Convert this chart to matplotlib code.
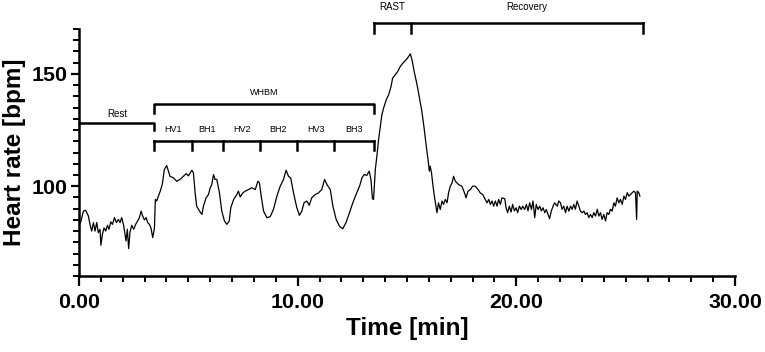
import numpy as np
import matplotlib
matplotlib.use('Agg')
import matplotlib.pyplot as plt
from matplotlib.ticker import MultipleLocator, FormatStrFormatter

plt.rcParams['font.family'] = ['Liberation Sans', 'DejaVu Sans']

# heart rate trace (time in min, bpm)
time_min = [
    0.00, 0.09, 0.20, 0.30, 0.43, 0.50, 0.58, 0.66, 0.73, 0.81, 0.88, 0.96, 1.00, 1.07, 1.14,
    1.22, 1.30, 1.37, 1.45, 1.53, 1.62, 1.71, 1.80, 1.88, 1.95, 2.04, 2.15, 2.21, 2.27, 2.33,
    2.41, 2.50, 2.59, 2.68, 2.76, 2.84, 2.91, 2.99, 3.07, 3.14, 3.22, 3.29, 3.37, 3.45, 3.49,
    3.55, 3.63, 3.74, 3.82, 3.90, 4.01, 4.16, 4.32, 4.47, 4.62, 4.77, 4.90, 5.00, 5.16, 5.23,
    5.31, 5.38, 5.51, 5.62, 5.69, 5.81, 5.92, 6.00, 6.07, 6.15, 6.22, 6.30, 6.42, 6.53, 6.65,
    6.76, 6.87, 6.94, 7.07, 7.22, 7.29, 7.37, 7.49, 7.60, 7.75, 7.90, 8.06, 8.18, 8.25, 8.33,
    8.44, 8.59, 8.74, 8.89, 9.05, 9.20, 9.35, 9.47, 9.58, 9.68, 9.81, 9.96, 10.08, 10.19, 10.29,
    10.41, 10.53, 10.64, 10.80, 10.95, 11.10, 11.23, 11.34, 11.49, 11.61, 11.76, 11.91, 12.06, 12.21, 12.37,
    12.52, 12.67, 12.83, 12.94, 13.04, 13.16, 13.27, 13.35, 13.42, 13.47, 13.55, 13.62, 13.70, 13.78, 13.85,
    13.93, 14.05, 14.16, 14.27, 14.34, 14.46, 14.57, 14.69, 14.81, 14.92, 15.02, 15.15, 15.23, 15.33, 15.46,
    15.57, 15.68, 15.79, 15.88, 15.96, 16.02, 16.06, 16.12, 16.19, 16.25, 16.32, 16.37, 16.44, 16.52, 16.60,
    16.67, 16.75, 16.83, 16.90, 16.98, 17.06, 17.13, 17.21, 17.36, 17.51, 17.63, 17.70, 17.79, 17.90, 18.00,
    18.12, 18.25, 18.35, 18.46, 18.58, 18.66, 18.74, 18.81, 18.89, 18.96, 19.04, 19.12, 19.19, 19.27, 19.34,
    19.47, 19.53, 19.60, 19.68, 19.76, 19.83, 19.91, 19.99, 20.06, 20.14, 20.22, 20.29, 20.38, 20.46, 20.53,
    20.61, 20.69, 20.76, 20.84, 20.91, 20.99, 21.07, 21.14, 21.22, 21.30, 21.37, 21.45, 21.52, 21.60, 21.68,
    21.75, 21.87, 21.94, 22.02, 22.09, 22.17, 22.25, 22.32, 22.40, 22.48, 22.55, 22.63, 22.70, 22.78, 22.86,
    22.93, 23.01, 23.09, 23.16, 23.24, 23.31, 23.39, 23.47, 23.54, 23.62, 23.70, 23.77, 23.85, 23.92, 24.00,
    24.08, 24.15, 24.23, 24.30, 24.38, 24.46, 24.53, 24.61, 24.69, 24.76, 24.84, 24.92, 24.99, 25.07, 25.15,
    25.22, 25.30, 25.37, 25.45, 25.50, 25.53, 25.60, 25.65,
]
heart_rate = [
    82.2, 84.5, 88.9, 89.3, 86.7, 83.0, 80.0, 83.8, 80.0, 83.8, 79.3, 80.8, 73.7, 78.6, 81.4,
    80.0, 82.6, 80.8, 84.1, 83.0, 86.0, 83.8, 85.2, 83.8, 86.0, 82.6, 75.6, 80.8, 72.2, 79.5,
    82.6, 80.8, 83.0, 84.5, 86.0, 88.9, 86.7, 85.0, 86.0, 83.8, 83.0, 81.4, 77.1, 81.4, 94.1,
    93.4, 95.6, 98.5, 101.5, 107.4, 109.2, 104.4, 103.7, 102.2, 103.0, 104.4, 105.6, 104.6, 107.1, 106.0,
    97.1, 91.1, 88.9, 87.4, 91.1, 94.8, 96.3, 99.3, 100.7, 105.2, 103.0, 103.0, 97.1, 88.9, 84.5,
    83.0, 84.5, 90.4, 94.1, 96.3, 97.8, 95.2, 97.0, 97.8, 98.5, 99.3, 98.5, 102.2, 101.5, 95.6,
    88.9, 86.0, 86.4, 89.6, 95.6, 100.0, 103.0, 107.1, 104.4, 103.7, 97.0, 90.4, 87.0, 88.9, 92.6,
    93.4, 91.5, 94.8, 96.3, 97.0, 98.5, 103.0, 100.7, 98.5, 91.1, 85.2, 82.2, 81.0, 83.8, 88.2,
    92.6, 96.3, 100.0, 103.7, 105.2, 104.8, 106.7, 103.0, 94.4, 94.1, 107.4, 113.3, 120.7, 126.6, 131.8,
    134.8, 138.5, 140.7, 144.4, 148.1, 149.6, 151.0, 153.3, 154.8, 155.9, 157.0, 158.9, 156.2, 151.0, 145.1,
    139.2, 133.3, 125.2, 117.8, 111.9, 106.7, 108.9, 105.9, 100.0, 95.6, 91.1, 88.2, 92.6, 89.6, 93.4,
    91.9, 94.1, 92.6, 97.0, 100.0, 101.5, 104.4, 102.2, 100.7, 100.0, 97.0, 94.8, 97.8, 98.5, 100.0,
    100.0, 98.5, 97.0, 96.3, 94.1, 92.6, 94.1, 91.9, 93.4, 91.1, 93.4, 91.1, 94.1, 91.9, 94.8,
    94.4, 90.4, 88.2, 91.1, 88.5, 91.9, 89.0, 90.4, 88.2, 91.1, 89.6, 91.1, 89.6, 91.9, 89.0,
    92.6, 89.6, 93.4, 86.0, 91.9, 89.6, 91.1, 89.0, 90.4, 88.2, 89.6, 87.4, 85.5, 89.0, 91.1,
    92.6, 91.1, 93.4, 92.6, 89.7, 91.1, 88.2, 91.1, 88.9, 91.1, 89.7, 91.9, 89.7, 93.4, 91.1,
    88.9, 88.2, 88.9, 87.4, 88.2, 86.0, 87.4, 86.0, 88.2, 86.7, 89.7, 86.7, 88.2, 85.2, 87.4,
    84.5, 88.2, 87.4, 89.7, 88.9, 92.6, 91.1, 94.8, 92.6, 94.1, 91.9, 95.6, 94.1, 97.1, 95.6,
    96.3, 97.1, 97.8, 97.1, 85.2, 97.8, 97.1, 95.6,
]

# protocol phases (boundaries in min)
rest_end = 3.43
whbm_edges = [3.45, 5.15, 6.60, 8.28, 9.96, 11.67, 13.47]
whbm_labels = ['HV1', 'BH1', 'HV2', 'BH2', 'HV3', 'BH3']
rast_edges = [13.47, 15.18, 25.78]
rast_labels = ['RAST', 'Recovery']

fig = plt.figure(figsize=(7.65, 3.52), dpi=100)
ax = fig.add_axes([0.1033, 0.2159, 0.8575, 0.7017])

ax.plot(time_min, heart_rate, color='black', lw=0.9)

ax.set_xlim(0, 30)
ax.set_ylim(60, 170)
ax.xaxis.set_major_locator(MultipleLocator(10))
ax.xaxis.set_minor_locator(MultipleLocator(1))
ax.yaxis.set_major_locator(MultipleLocator(50))
ax.yaxis.set_minor_locator(MultipleLocator(5))
ax.xaxis.set_major_formatter(FormatStrFormatter('%.2f'))

for s in ['top', 'right']:
    ax.spines[s].set_visible(False)
for s in ['left', 'bottom']:
    ax.spines[s].set_linewidth(1.8)

ax.tick_params(axis='both', which='major', width=1.6, labelsize=15.4)
ax.tick_params(axis='x', which='major', length=7, pad=5)
ax.tick_params(axis='y', which='major', length=6, pad=2)
ax.tick_params(axis='both', which='minor', width=1.4, length=4)
for lab in ax.get_xticklabels() + ax.get_yticklabels():
    lab.set_fontweight('bold')

ax.set_xlabel('Time [min]', fontsize=17.5, fontweight='bold', labelpad=4)
ax.set_ylabel('Heart rate [bpm]', fontsize=17.5, fontweight='bold', labelpad=4)

blw = 1.8
kw = dict(color='black', lw=blw, clip_on=False, solid_capstyle='projecting')

# Rest
ax.plot([0, rest_end, rest_end], [128.1, 128.1, 125.0], **kw)
ax.text(rest_end / 2 + 0.05, 132.2, 'Rest', ha='center', va='center', fontsize=7)

# WHBM overall bracket
x0, x1 = whbm_edges[0], whbm_edges[-1]
ax.plot([x0, x0, x1, x1], [132.5, 136.7, 136.7, 132.5], **kw)
ax.text((x0 + x1) / 2, 141.7, 'WHBM', ha='center', va='center', fontsize=6.5)

# WHBM sub-phases
ax.plot([x0, x1], [120, 120], **kw)
for e in whbm_edges:
    ax.plot([e, e], [120, 116], **kw)
for a, b, lab in zip(whbm_edges[:-1], whbm_edges[1:], whbm_labels):
    ax.text((a + b) / 2, 125.2, lab, ha='center', va='center', fontsize=6.5)

# RAST / Recovery
ax.plot([rast_edges[0], rast_edges[-1]], [172.8, 172.8], **kw)
for e in rast_edges:
    ax.plot([e, e], [172.8, 168.4], **kw)
for a, b, lab in zip(rast_edges[:-1], rast_edges[1:], rast_labels):
    ax.text((a + b) / 2, 179.9, lab, ha='center', va='center', fontsize=7)

fig.savefig('out.png', dpi=100)
